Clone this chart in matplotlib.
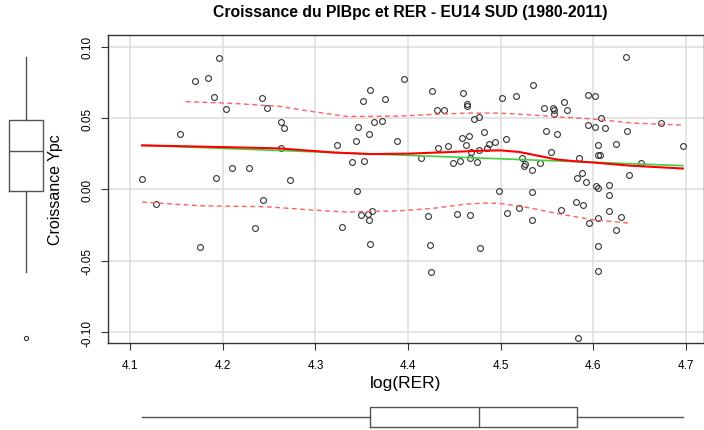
import numpy as np
import matplotlib
matplotlib.use("Agg")
import matplotlib.pyplot as plt

plt.rcParams['font.family'] = ['Liberation Sans', 'DejaVu Sans']

# log(RER) and growth of GDP per capita, EU14 south, 1980-2011
log_rer = [
    4.1955, 4.1702, 4.1839, 4.1908, 4.2034, 4.2427, 4.2481, 4.1533, 4.2632, 4.2660,
    4.2632, 4.1126, 4.1277, 4.1929, 4.2099, 4.2279, 4.2722, 4.2430, 4.2351, 4.3237,
    4.3392, 4.3529, 4.3443, 4.3573, 4.3457, 4.3630, 4.3724, 4.3515, 4.3587, 4.3749,
    4.3955, 4.3879, 4.3447, 4.3494, 4.3569, 4.3608, 4.3583, 4.3284, 4.4138, 4.1753,
    4.3591,
    4.4261, 4.4596, 4.4636, 4.4636, 4.4312, 4.4384, 4.5010, 4.5162, 4.5349, 4.6355,
    4.5940, 4.6020, 4.5472, 4.5569, 4.5572, 4.5688, 4.5720, 4.5572, 4.4708, 4.4769,
    4.4816, 4.4658, 4.4586, 4.4625, 4.4427, 4.4326, 4.4680, 4.4766, 4.4856, 4.4877,
    4.4942, 4.5054, 4.4669, 4.4560, 4.4481, 4.4740, 4.5490, 4.5612, 4.5540, 4.5234,
    4.5260, 4.5252, 4.5425, 4.5335, 4.4979, 4.5338, 4.5850, 4.5948, 4.6020, 4.6131,
    4.6081, 4.6365, 4.6736, 4.6970, 4.6052, 4.6250, 4.6052, 4.6074, 4.6521, 4.6391,
    4.5875, 4.5828, 4.5926, 4.6030, 4.6052, 4.6167, 4.6175, 4.5810, 4.5893, 4.6175,
    4.6297, 4.6052, 4.5954, 4.5652, 4.5194, 4.5072, 4.5342, 4.4218, 4.4524, 4.4665,
    4.6250,
    4.4236, 4.4776, 4.6056, 4.4247, 4.6052, 4.5832,
]
croissance = [
    0.0917, 0.0758, 0.0779, 0.0649, 0.0565, 0.0637, 0.0567, 0.0385, 0.0469, 0.0429,
    0.0292, 0.0070, -0.0105, 0.0077, 0.0149, 0.0149, 0.0065, -0.0075, -0.0273, 0.0308,
    0.0191, 0.0196, 0.0338, 0.0385, 0.0436, 0.0474, 0.0481, 0.0618, 0.0695, 0.0632,
    0.0775, 0.0338, -0.0014, -0.0178, -0.0173, -0.0152, -0.0215, -0.0264, 0.0219, -0.0404,
    -0.0385,
    0.0688, 0.0672, 0.0599, 0.0585, 0.0558, 0.0558, 0.0637, 0.0653, 0.0728, 0.0924,
    0.0663, 0.0653, 0.0567, 0.0569, 0.0557, 0.0609, 0.0553, 0.0530, 0.0490, 0.0504,
    0.0404, 0.0371, 0.0357, 0.0313, 0.0301, 0.0287, 0.0259, 0.0278, 0.0289, 0.0320,
    0.0329, 0.0352, 0.0219, 0.0196, 0.0182, 0.0191, 0.0406, 0.0390, 0.0261, 0.0217,
    0.0177, 0.0166, 0.0187, 0.0133, -0.0010, -0.0017, 0.0217, 0.0448, 0.0439, 0.0429,
    0.0497, 0.0411, 0.0464, 0.0301, 0.0308, 0.0317, 0.0238, 0.0238, 0.0187, 0.0098,
    0.0114, 0.0081, 0.0053, 0.0025, 0.0009, 0.0030, -0.0040, -0.0087, -0.0108, -0.0150,
    -0.0196, -0.0199, -0.0236, -0.0143, -0.0131, -0.0164, -0.0213, -0.0189, -0.0175, -0.0182,
    -0.0287,
    -0.0392, -0.0411, -0.0399, -0.0579, -0.0572, -0.1044,
]

# smoother (red) and spread lines (dashed)
smooth_x = [4.1126, 4.20, 4.26, 4.32, 4.36, 4.40, 4.44, 4.48, 4.50, 4.52,
            4.54, 4.56, 4.58, 4.60, 4.64, 4.697]
smooth_y = [0.0308, 0.0296, 0.0287, 0.0258, 0.0247, 0.0250, 0.0260, 0.0271, 0.0273, 0.0262,
            0.0236, 0.0210, 0.0197, 0.0188, 0.0166, 0.0146]
upper_x = [4.1598, 4.211, 4.2614, 4.29, 4.3334, 4.355, 4.3911, 4.4272, 4.4632, 4.4993,
           4.5353, 4.5713, 4.60, 4.6434, 4.697]
upper_y = [0.0614, 0.0602, 0.0581, 0.0551, 0.0511, 0.0511, 0.0513, 0.0525, 0.0534, 0.0534,
           0.0520, 0.0504, 0.0492, 0.0464, 0.0450]
lower_x = [4.1126, 4.175, 4.247, 4.2975, 4.3334, 4.3623, 4.3911, 4.4272, 4.4632, 4.4813,
           4.4993, 4.5281, 4.5641, 4.60, 4.638]
lower_y = [-0.0089, -0.0115, -0.0122, -0.0145, -0.0159, -0.0154, -0.0150, -0.0133, -0.0103, -0.0096,
           -0.0098, -0.0126, -0.0173, -0.0213, -0.0236]

x_ticks = [4.1, 4.2, 4.3, 4.4, 4.5, 4.6, 4.7]
y_ticks = [-0.10, -0.05, 0.00, 0.05, 0.10]

x = np.array(log_rer)
y = np.array(croissance)

W, H = 704, 431
fig = plt.figure(figsize=(W / 100, H / 100), dpi=100)

ax = fig.add_axes([108 / W, (H - 344.3) / H, (W - 108) / W, 308.6 / H])
ax_l = fig.add_axes([0, (H - 344.3) / H, 52 / W, 308.6 / H], sharey=ax)
ax_b = fig.add_axes([108 / W, 0, (W - 108) / W, 26 / H], sharex=ax)

# grid
ax.set_xticks(x_ticks)
ax.set_yticks(y_ticks)
ax.grid(True, color='#dcdcdc', lw=1.1)
ax.set_axisbelow(True)

# points
ax.plot(x, y, 'o', ms=4.2, mfc='none', mec='#333333', mew=0.8, zorder=3)

# linear fit (green)
b, a = np.polyfit(x, y, 1)
xf = np.array([x.min(), x.max()])
ax.plot(xf, a + b * xf, color='#3fd23f', lw=1.2, zorder=4)

# smoother and spread
ax.plot(smooth_x, smooth_y, color='#ff0000', lw=1.5, zorder=5)
ax.plot(upper_x, upper_y, color='#ff6060', lw=1, dashes=(3.5, 2.5), zorder=4)
ax.plot(lower_x, lower_y, color='#ff6060', lw=1, dashes=(3.5, 2.5), zorder=4)

ax.set_xlim(4.0758, 4.7198)
ax.set_ylim(-0.1078, 0.1083)
ax.set_xticklabels(['4.1', '4.2', '4.3', '4.4', '4.5', '4.6', '4.7'])
ax.set_yticklabels(['-0.10', '-0.05', '0.00', '0.05', '0.10'],
                   rotation=90, va='center')
ax.tick_params(axis='both', direction='out', length=5, width=0.8,
               color='#333333', labelsize=8.5)
ax.tick_params(axis='x', pad=6.5)
ax.tick_params(axis='y', pad=5.5)
for s in ax.spines.values():
    s.set_color('#333333')
    s.set_linewidth(1)

ax.set_xlabel('log(RER)', fontsize=12.5, labelpad=3)
ax.set_ylabel('Croissance Ypc', fontsize=11.5, labelpad=13)

fig.text(410 / W, 1 - 12 / H, 'Croissance du PIBpc et RER - EU14 SUD (1980-2011)',
         ha='center', va='center', fontsize=11.3, fontweight='bold')

# marginal boxplots
box_style = dict(color='#555555', lw=1)
ax_l.boxplot(y, positions=[0.5], widths=34 / 52, vert=True,
             boxprops=box_style, whiskerprops=box_style, medianprops=box_style,
             showcaps=False,
             flierprops=dict(marker='o', ms=3, mfc='none', mec='#333333', mew=0.8))
ax_l.set_xlim(0, 1)
ax_l.axis('off')

ax_b.boxplot(x, positions=[0.5], widths=0.77, vert=False,
             boxprops=box_style, whiskerprops=box_style, medianprops=box_style,
             showcaps=False,
             flierprops=dict(marker='o', ms=3, mfc='none', mec='#333333', mew=0.8))
ax_b.set_ylim(0, 1)
ax_b.axis('off')

fig.savefig('out.png', dpi=100)
